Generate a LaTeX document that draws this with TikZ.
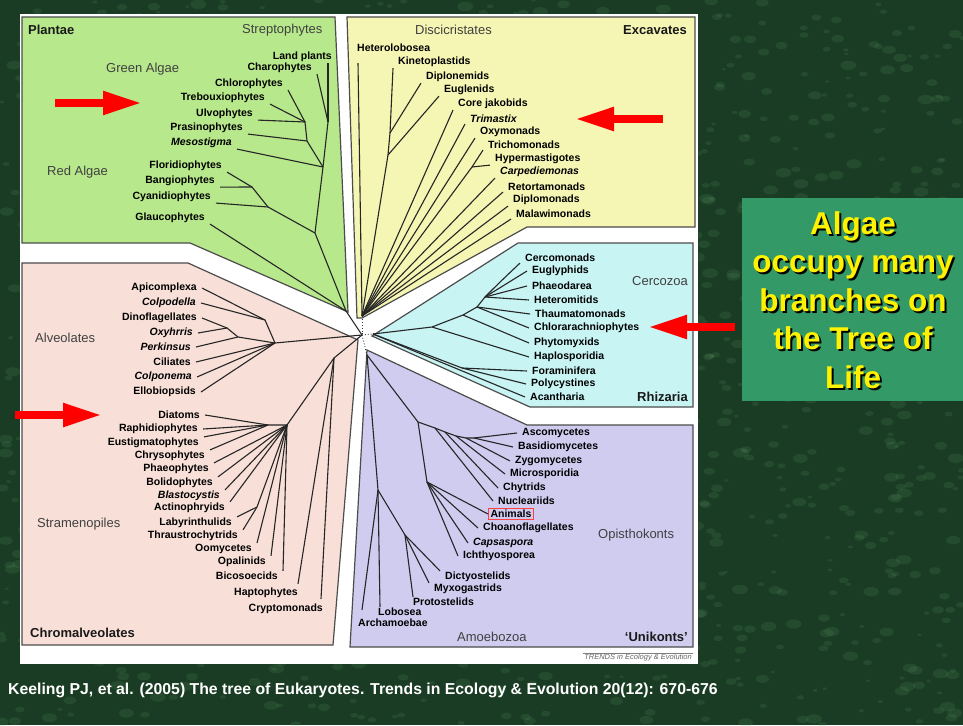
\documentclass[tikz,border=0pt]{standalone}
\usepackage{fontspec}
\setmainfont{Liberation Sans}
\usepackage{tikz}
\usetikzlibrary{arrows.meta}

\definecolor{bggreen}{RGB}{26,60,36}
\definecolor{bgvein}{RGB}{95,155,105}
\definecolor{boxgreen}{RGB}{51,153,102}
\definecolor{plantcol}{RGB}{184,232,140}
\definecolor{excavcol}{RGB}{245,245,180}
\definecolor{rhizcol}{RGB}{200,244,244}
\definecolor{chromcol}{RGB}{248,224,216}
\definecolor{unikcol}{RGB}{208,204,240}

\tikzset{
  leaf/.style={font=\bfseries\fontsize{10.5}{12}\selectfont, inner xsep=5pt, inner ysep=1pt},
  leafL/.style={leaf, anchor=east},
  leafR/.style={leaf, anchor=west},
  ital/.style={font=\bfseries\itshape\fontsize{10.5}{12}\selectfont},
  grp/.style={font=\fontsize{13}{15}\selectfont, text=black!75, inner sep=0pt},
  clade/.style={font=\bfseries\fontsize{13}{15}\selectfont, text=black!90, inner sep=0pt},
  branch/.style={draw=black!85, line width=1.1pt},
  rootdots/.style={draw=black!80, line width=0.9pt, dotted},
  region/.style={draw=black!70, line width=1.2pt},
  redarrow/.style={draw=red, line width=8pt, -{Triangle[length=39pt,width=22pt]}},
  boxtext/.style={font=\bfseries\fontsize{31.5}{38.5}\selectfont, align=center, inner sep=0pt},
  bgblob/.style={fill=bgvein, opacity=0.16},
}

\begin{document}
\begin{tikzpicture}[x=1pt,y=-1pt]
\useasboundingbox (0,0) rectangle (963,725);
\fill[bggreen] (0,0) rectangle (963,725);
% mottled texture of the slide background
\pgfmathsetseed{11}
\foreach \i in {1,...,1400}{
  \pgfmathsetmacro{\bx}{rnd*963}
  \pgfmathsetmacro{\by}{rnd*725}
  \pgfmathsetmacro{\br}{2+rnd*6}
  \fill[bgblob] (\bx,\by) ellipse ({\br} and {0.6*\br});
}
\fill[white] (20,14) rectangle (698,664);

% coloured regions
\filldraw[region, fill=plantcol] (22,17) -- (335,17) -- (348,312) -- (190,243) -- (22,243) -- cycle;
\filldraw[region, fill=excavcol] (347,17) -- (695,17) -- (695,227) -- (527,227) -- (362,318) -- (357,318) -- cycle;
\filldraw[region, fill=rhizcol] (518,243) -- (693,243) -- (693,407) -- (530,407) -- (372,336) -- cycle;
\filldraw[region, fill=chromcol] (22,263) -- (188,263) -- (358,340) -- (333,645) -- (22,645) -- cycle;
\filldraw[region, fill=unikcol] (367,350) -- (527,425) -- (693,425) -- (693,647) -- (350,647) -- cycle;

% inner nodes of the tree
\coordinate (ctr) at (362,335);
\coordinate (pA) at (328,122);
\coordinate (pB) at (323,167);
\coordinate (pC) at (307,141);
\coordinate (pD) at (305,122);
\coordinate (pE) at (315,233);
\coordinate (pF) at (268,207);
\coordinate (pG) at (252,187);
\coordinate (pR) at (346,311);
\coordinate (eK1) at (390,133);
\coordinate (eK2) at (388,155);
\coordinate (eT) at (472,167);
\coordinate (eR) at (362,316);
\coordinate (rS) at (373,334);
\coordinate (r1) at (432,327);
\coordinate (r2) at (463,315);
\coordinate (r2b) at (477,307);
\coordinate (r3) at (485,297);
\coordinate (rP) at (462,368);
\coordinate (a0) at (275,343);
\coordinate (a1) at (265,320);
\coordinate (a2) at (227,328);
\coordinate (a3) at (238,337);
\coordinate (s0) at (287,425);
\coordinate (s1) at (268,425);
\coordinate (s2) at (257,507);
\coordinate (c1) at (334,358);
\coordinate (uS) at (367,355);
\coordinate (o1) at (418,422);
\coordinate (nN) at (435,428);
\coordinate (nC) at (445,432);
\coordinate (nM) at (456,436);
\coordinate (nZ) at (466,438);
\coordinate (nAB) at (474,438);
\coordinate (h1) at (427,482);
\coordinate (am1) at (378,490);
\coordinate (am2) at (405,535);

% Plantae
\node[clade, anchor=west] (plantae) at (28,30) {Plantae};
\node[grp, anchor=west] (strepto) at (242,30) {Streptophytes};
\node[grp, anchor=west] (greenalg) at (106,69) {Green Algae};
\node[grp, anchor=west] (redalg) at (47,172) {Red Algae};
\node[leafL] (lp) at (337,57) {Land plants};
\node[leafL] (cha) at (317,68) {Charophytes};
\node[leafL] (chl) at (288,84) {Chlorophytes};
\node[leafL] (tre) at (270,98) {Trebouxiophytes};
\node[leafL] (ulv) at (258,114) {Ulvophytes};
\node[leafL] (pra) at (248,128) {Prasinophytes};
\node[leafL, ital] (mes) at (237,143) {Mesostigma};
\node[leafL] (flo) at (227,166) {Floridiophytes};
\node[leafL] (ban) at (220,181) {Bangiophytes};
\node[leafL] (cya) at (216,197) {Cyanidiophytes};
\node[leafL] (gla) at (210,218) {Glaucophytes};

\draw[branch] ([xshift=-9pt]lp.south east) -- (pA);
\draw[branch] (cha.south east) -- (pA) -- (pB) -- (pE) -- (pR) -- (ctr);
\draw[branch] (chl.south east) -- (pD);
\draw[branch] (tre.south east) -- (pD);
\draw[branch] (ulv.south east) -- (pD) -- (pC) -- (pB);
\draw[branch] (pra.south east) -- (pC);
\draw[branch] (mes.south east) -- (pB);
\draw[branch] (flo.south east) -- (pG);
\draw[branch] (ban.south east) -- (pG) -- (pF) -- (pE);
\draw[branch] (cya.south east) -- (pF);
\draw[branch] (gla.south east) -- (pR);

% Excavates
\node[grp, anchor=west] (discic) at (415,30) {Discicristates};
\node[clade, anchor=east] (excav) at (687,30) {Excavates};
\node[leafR] (het) at (352,48) {Heterolobosea};
\node[leafR] (kin) at (393,62) {Kinetoplastids};
\node[leafR] (dip) at (421,77) {Diplonemids};
\node[leafR] (eug) at (439,90) {Euglenids};
\node[leafR] (cjk) at (453,104) {Core jakobids};
\node[leafR, ital] (tri) at (465,119) {Trimastix};
\node[leafR] (oxy) at (475,132) {Oxymonads};
\node[leafR] (trc) at (483,145) {Trichomonads};
\node[leafR] (hyp) at (490,159) {Hypermastigotes};
\node[leafR, ital] (car) at (495,172) {Carpediemonas};
\node[leafR] (ret) at (503,187) {Retortamonads};
\node[leafR] (dpm) at (508,200) {Diplomonads};
\node[leafR] (mal) at (511,214) {Malawimonads};

\draw[branch] ([xshift=6pt,yshift=-10pt]het.south west) -- (eR);
\draw[branch] (kin.south west) -- (eK1) -- (eK2) -- (eR);
\draw[branch] (dip.south west) -- (eK1);
\draw[branch] (eug.south west) -- (eK2);
\draw[branch] (cjk.south west) -- (eR);
\draw[branch] (tri.south west) -- (eR);
\draw[branch] (oxy.south west) -- (eR);
\draw[branch] (trc.south west) -- (eT) -- (eR);
\draw[branch] (hyp.south west) -- (eT);
\draw[branch] (car.south west) -- (eR);
\draw[branch] (ret.south west) -- (eR);
\draw[branch] (dpm.south west) -- (eR);
\draw[branch] (mal.south west) -- (eR);
\draw[rootdots] (eR) -- (ctr);

% Rhizaria
\node[grp, anchor=west] (cercozoa) at (632,281) {Cercozoa};
\node[clade, anchor=east] (rhiz) at (688,397) {Rhizaria};
\node[leafR] (cer) at (520,258) {Cercomonads};
\node[leafR] (eua) at (527,271) {Euglyphids};
\node[leafR] (pha) at (527,286) {Phaeodarea};
\node[leafR] (htm) at (529,300) {Heteromitids};
\node[leafR] (tha) at (530,314) {Thaumatomonads};
\node[leafR] (chr) at (529,328) {Chlorarachniophytes};
\node[leafR] (phy) at (529,343) {Phytomyxids};
\node[leafR] (hap) at (529,357) {Haplosporidia};
\node[leafR] (for) at (527,371) {Foraminifera};
\node[leafR] (pol) at (526,384) {Polycystines};
\node[leafR] (aca) at (525,397) {Acantharia};

\draw[rootdots] (ctr) -- (rS);
\draw[branch] (rS) -- (r1) -- (r2) -- (r2b) -- (r3);
\draw[branch] (r3) .. controls (500,282) .. (cer.south west);
\draw[branch] (r3) -- (eua.west);
\draw[branch] (r3) -- (pha.west);
\draw[branch] (r3) -- (htm.west);
\draw[branch] (r2b) -- (tha.west);
\draw[branch] (r2b) -- (chr.west);
\draw[branch] (r2) -- (phy.west);
\draw[branch] (r1) -- (hap.west);
\draw[branch] (rS) -- (rP) -- (for.west);
\draw[branch] (rP) -- (pol.west);
\draw[branch] (rS) -- (aca.west);

% Chromalveolates
\node[grp, anchor=west] (alveo) at (35,338) {Alveolates};
\node[grp, anchor=west] (strameno) at (37,524) {Stramenopiles};
\node[clade, anchor=west] (chromalv) at (30,633) {Chromalveolates};
\node[leafL] (api) at (202,288) {Apicomplexa};
\node[leafL, ital] (cpd) at (201,303) {Colpodella};
\node[leafL] (din) at (202,318) {Dinoflagellates};
\node[leafL, ital] (oxh) at (198,333) {Oxyhrris};
\node[leafL, ital] (per) at (196,347) {Perkinsus};
\node[leafL] (cil) at (196,362) {Ciliates};
\node[leafL, ital] (cpn) at (197,377) {Colponema};
\node[leafL] (ell) at (201,392) {Ellobiopsids};

\draw[branch] (api.east) -- (a1);
\draw[branch] (cpd.east) -- (a1) -- (a0);
\draw[branch] (din.east) -- (a2);
\draw[branch] (oxh.east) -- (a2) -- (a3);
\draw[branch] (per.east) -- (a3) -- (a0);
\draw[branch] (cil.east) -- (a0);
\draw[branch] (cpn.east) -- (a0);
\draw[branch] (ell.east) -- (a0) -- (ctr);

\node[leafL] (dia) at (205,415) {Diatoms};
\node[leafL] (rap) at (203,429) {Raphidiophytes};
\node[leafL] (eus) at (204,443) {Eustigmatophytes};
\node[leafL] (chy) at (210,456) {Chrysophytes};
\node[leafL] (pho) at (214,469) {Phaeophytes};
\node[leafL] (bol) at (218,483) {Bolidophytes};
\node[leafL, ital] (bla) at (225,496) {Blastocystis};
\node[leafL] (act) at (230,508) {Actinophryids};
\node[leafL] (lab) at (237,523) {Labyrinthulids};
\node[leafL] (thr) at (243,536) {Thraustrochytrids};
\node[leafL] (oom) at (257,549) {Oomycetes};
\node[leafL] (opa) at (271,562) {Opalinids};
\node[leafL] (bic) at (283,576) {Bicosoecids};
\node[leafL] (hpt) at (303,593) {Haptophytes};
\node[leafL] (cry) at (328,609) {Cryptomonads};

\draw[branch] (dia.east) -- (s1);
\draw[branch] (rap.east) -- (s1);
\draw[branch] (eus.north east) -- (s1);
\draw[branch] (chy.north east) -- (s1) -- (s0);
\draw[branch] (pho.north east) -- (s0);
\draw[branch] (bol.north east) -- (s0);
\draw[branch] (bla.north east) -- (s0);
\draw[branch] (act.north east) -- (s0);
\draw[branch] (lab.north east) -- (s2);
\draw[branch] (thr.north east) -- (s2) -- (s0);
\draw[branch] (oom.north east) -- (s0);
\draw[branch] (opa.north east) -- (s0);
\draw[branch] (bic.north east) -- (s0) -- (c1);
\draw[branch] ([xshift=-5pt,yshift=3pt]hpt.north east) -- (c1);
\draw[branch] ([xshift=-7pt,yshift=4pt]cry.north east) -- (c1) -- (ctr);

% Unikonts
\node[grp, anchor=west] (opistho) at (598,535) {Opisthokonts};
\node[grp, anchor=west] (amoebo) at (457,637) {Amoebozoa};
\node[clade, anchor=east] (unik) at (688,637) {‘Unikonts’};
\node[leafR] (asc) at (517,433) {Ascomycetes};
\node[leafR] (bas) at (513,447) {Basidiomycetes};
\node[leafR] (zyg) at (510,461) {Zygomycetes};
\node[leafR] (mic) at (505,474) {Microsporidia};
\node[leafR] (cht) at (498,488) {Chytrids};
\node[leafR] (nuc) at (493,501) {Nucleariids};
\node[leaf, anchor=west, draw=red!75, line width=1pt, inner xsep=2pt, inner ysep=1.5pt] (ani) at (488,514) {Animals};
\node[leafR] (cho) at (478,528) {Choanoflagellates};
\node[leafR, ital] (cap) at (468,543) {Capsaspora};
\node[leafR] (ich) at (458,556) {Ichthyosporea};
\node[leafR] (dic) at (440,577) {Dictyostelids};
\node[leafR] (myx) at (429,589) {Myxogastrids};
\node[leafR] (pro) at (408,602) {Protostelids};
\node[leafR] (lob) at (373,612) {Lobosea};
\node[leafR] (arc) at (353,623) {Archamoebae};

\draw[rootdots] (ctr) -- (uS);
\draw[branch] (uS) -- (o1) -- (nN) -- (nC) -- (nM) -- (nZ) -- (nAB);
\draw[branch] (nAB) -- (asc.west);
\draw[branch] (nAB) -- (bas.west);
\draw[branch] (nZ) -- (zyg.west);
\draw[branch] (nM) -- (mic.west);
\draw[branch] (nC) -- (cht.west);
\draw[branch] (nN) -- (nuc.west);
\draw[branch] (o1) -- (h1) -- (ani.west);
\draw[branch] (h1) -- (cho.west);
\draw[branch] (h1) -- (cap.west);
\draw[branch] (h1) -- (ich.west);
\draw[branch] (uS) -- (am1) -- ([xshift=9pt,yshift=8pt]arc.north west);
\draw[branch] (am1) -- ([xshift=7pt]lob.north west);
\draw[branch] (am1) -- (am2) -- ([xshift=5pt]pro.north west);
\draw[branch] (am2) -- (myx.north west);
\draw[branch] (am2) -- (dic.north west);

% source line of the figure
\node[font=\itshape\fontsize{7.5}{9}\selectfont, text=black!60, anchor=east, inner sep=1pt] (trends) at (693,658) {TRENDS in Ecology \& Evolution};
\draw[black!50, line width=0.6pt] (trends.north west) -- (trends.north east);

% red arrows
\coordinate (arA1) at (55,103);
\coordinate (arA2) at (142,103);
\coordinate (arB1) at (663,119);
\coordinate (arB2) at (575,119);
\coordinate (arC1) at (735,327);
\coordinate (arC2) at (648,327);
\coordinate (arD1) at (15,415);
\coordinate (arD2) at (102,415);
\draw[redarrow] (arA1) -- (arA2);
\draw[redarrow] (arB1) -- (arB2);
\draw[redarrow] (arC1) -- (arC2);
\draw[redarrow] (arD1) -- (arD2);

% message box
\fill[boxgreen] (742,198) rectangle (963,401);
\node[boxtext, text=black] (msgsh) at (855,302) {Algae\\occupy many\\branches on\\the Tree of\\Life};
\node[boxtext, text=yellow] (msg) at (853,300) {Algae\\occupy many\\branches on\\the Tree of\\Life};

% citation
\node[font=\bfseries\fontsize{15.8}{18}\selectfont, text=white, anchor=west, inner sep=0pt] (cite) at (8,690) {Keeling PJ, et al. (2005) The tree of Eukaryotes. Trends in Ecology \& Evolution 20(12): 670-676};
\end{tikzpicture}
\end{document}
